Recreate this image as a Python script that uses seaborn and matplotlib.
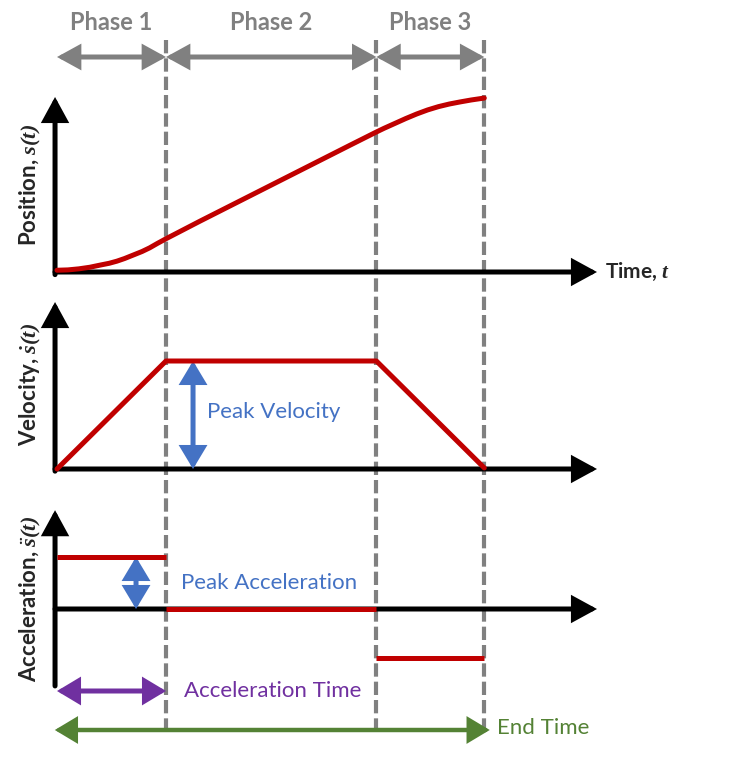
import numpy as np
import pandas as pd
import seaborn as sns
import matplotlib.pyplot as plt

# --------------------------------------------------------------
# Data (time in units of the acceleration time)
# --------------------------------------------------------------
phase_times = [0.0, 1.0, 2.93, 3.92]
phase_labels = ["Phase 1", "Phase 2", "Phase 3"]

# position s(t) (normalised to the end position)
pos_t = [0.0, 0.1, 0.2, 0.3, 0.4, 0.48, 0.55, 0.62, 0.7, 0.78, 0.85, 0.92,
         1.0, 1.31, 1.77, 2.23, 2.69, 2.93, 3.0, 3.1, 3.2, 3.3, 3.4, 3.5,
         3.6, 3.7, 3.8, 3.92]
pos_s = [0.01, 0.012, 0.018, 0.027, 0.04, 0.05, 0.062, 0.077, 0.097, 0.117,
         0.138, 0.163, 0.19, 0.29, 0.435, 0.58, 0.725, 0.80, 0.821, 0.849,
         0.877, 0.903, 0.926, 0.945, 0.96, 0.972, 0.983, 0.994]

# velocity: trapezoid
vel_t = [0.0, 1.0, 2.93, 3.92]
vel_v = [0.0, 1.0, 1.0, 0.01]

# acceleration: three constant pieces
acc_start = [0.0, 1.0, 2.93]
acc_end = [1.0, 2.93, 3.92]
acc_a = [1.0, 0.0, -0.94]

# --------------------------------------------------------------
# Style
# --------------------------------------------------------------
sns.set_theme(style="white")
plt.rcParams["font.family"] = ["Lato", "DejaVu Sans"]
plt.rcParams["mathtext.fontset"] = "custom"
plt.rcParams["mathtext.bf"] = "Liberation Serif:italic:bold"
plt.rcParams["mathtext.rm"] = "Liberation Serif:bold"

RED = "#C00000"
GRAY = "#808080"
BLUE = "#4472C4"
PURPLE = "#7030A0"
GREEN = "#548235"

W, H = 737, 758
X0, PX_PER_T = 57, 109
xlim = (-X0 / PX_PER_T, (W - X0) / PX_PER_T)

fig = plt.figure(figsize=(W / 100, H / 100), dpi=100)


def panel(y_zero, y_one):
    # full-figure axes: value 0 sits on pixel row y_zero, value 1 on y_one
    ax = fig.add_axes([0, 0, 1, 1])
    per_px = 1.0 / (y_zero - y_one)
    ax.set_xlim(*xlim)
    ax.set_ylim((y_zero - H) * per_px, y_zero * per_px)
    ax.axis("off")
    ax.patch.set_alpha(0)
    return ax


def arrow(ax, p0, p1, color, lw=3.6, hl=1.1, hw=0.6, both=False):
    style = "<|-|>" if both else "-|>"
    ax.annotate("", xy=p1, xytext=p0,
                arrowprops=dict(arrowstyle=f"{style},head_length={hl},head_width={hw}",
                                color=color, lw=lw, shrinkA=0, shrinkB=0,
                                joinstyle="miter"),
                annotation_clip=False)


# overlay in pixel rows for the phase markers and time spans
ov = fig.add_axes([0, 0, 1, 1])
ov.set_xlim(*xlim)
ov.set_ylim(H, 0)
ov.axis("off")

ov.vlines(phase_times[1:], 40, 733, color=GRAY, lw=3.0,
          linestyles=(0, (3.2, 1.2)), zorder=1)
for i, lab in enumerate(phase_labels):
    a, b = phase_times[i], phase_times[i + 1]
    arrow(ov, (a, 57), (b, 57), GRAY, lw=3.6, hl=1.0, hw=0.55, both=True)
    ov.text((a + b) / 2, 22, lab, color=GRAY, fontsize=17, fontweight="bold",
            ha="center", va="center")

t_ax = -0.018
LBL = 16

# ---------------- position ----------------
ax1 = panel(272, 97)
arrow(ax1, (t_ax, -0.015), (t_ax, 1.0), "black")
arrow(ax1, (t_ax, 0), (4.954, 0), "black")
sns.lineplot(x=pos_t, y=pos_s, ax=ax1, color=RED, lw=3.6, estimator=None,
             sort=False, zorder=5)
ax1.text(5.03, 0, r"Time, $\mathbf{t}$", fontsize=15, fontweight="bold",
         ha="left", va="center")
ax1.text(-0.245, 0.5, r"Position, $\mathbf{s(t)}$", fontsize=LBL,
         fontweight="bold", rotation=90, ha="center", va="center")

# ---------------- velocity ----------------
ax2 = panel(469, 361)
arrow(ax2, (t_ax, -0.02), (t_ax, 1.546), "black")
arrow(ax2, (t_ax, 0), (4.954, 0), "black")
sns.lineplot(x=vel_t, y=vel_v, ax=ax2, color=RED, lw=3.6, estimator=None,
             sort=False, zorder=5)
arrow(ax2, (1.248, 0), (1.248, vel_v[1]), BLUE, lw=3.6, hl=1.0, hw=0.6, both=True)
ax2.text(1.376, 0.53, "Peak Velocity", color=BLUE, fontsize=16,
         ha="left", va="center")
ax2.text(-0.245, 0.78, r"Velocity, $\dot{\mathbf{s}}\mathbf{(t)}$", fontsize=LBL,
         fontweight="bold", rotation=90, ha="center", va="center")

# ---------------- acceleration ----------------
ax3 = panel(609, 557)
arrow(ax3, (t_ax, -1.48), (t_ax, 1.90), "black")
arrow(ax3, (t_ax, 0), (4.954, 0), "black")
ax3.hlines(acc_a, acc_start, acc_end, color=RED, lw=3.6, zorder=5)
arrow(ax3, (0.725, 0), (0.725, acc_a[0]), BLUE, lw=3.6, hl=1.0, hw=0.6, both=True)
ax3.text(1.138, 0.5, "Peak Acceleration", color=BLUE, fontsize=16,
         ha="left", va="center")
ax3.text(-0.245, 0.2, r"Acceleration, $\ddot{\mathbf{s}}\mathbf{(t)}$",
         fontsize=LBL, fontweight="bold", rotation=90, ha="center", va="center")

# time spans
arrow(ov, (phase_times[0], 691), (phase_times[1], 691), PURPLE, lw=3.6,
      hl=1.0, hw=0.6, both=True)
ov.text(1.165, 691, "Acceleration Time", color=PURPLE, fontsize=16,
        ha="left", va="center")
arrow(ov, (-0.02, 730), (3.97, 730), GREEN, lw=3.2, hl=1.0, hw=0.6, both=True)
ov.text(4.037, 728, "End Time", color=GREEN, fontsize=16,
        ha="left", va="center")

fig.savefig("out.png", dpi=100)
